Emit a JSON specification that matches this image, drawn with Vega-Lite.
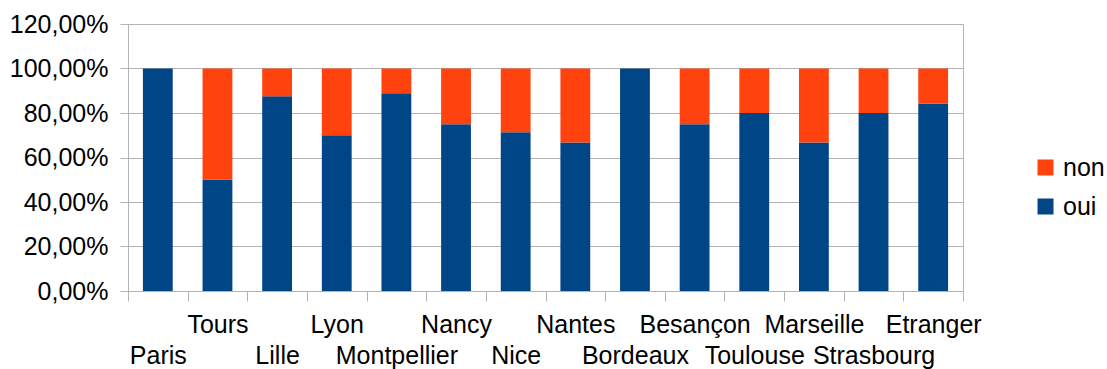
{
  "$schema": "https://vega.github.io/schema/vega-lite/v6.json",
  "width": 835,
  "height": 267,
  "autosize": {"type": "none"},
  "padding": {"left": 128, "top": 24, "right": 144, "bottom": 78},
  "background": "white",
  "config": {
    "font": "Liberation Sans",
    "view": {"stroke": "#b3b3b3", "strokeWidth": 1},
    "axis": {"labelFont": "Liberation Sans", "labelColor": "#000000", "domainColor": "#b3b3b3", "tickColor": "#b3b3b3", "gridColor": "#b3b3b3"}
  },
  "data": {
    "values": [
      {"ville": "Paris", "reponse": "oui", "pourcentage": 1.0},
      {"ville": "Paris", "reponse": "non", "pourcentage": 0.0},
      {"ville": "Tours", "reponse": "oui", "pourcentage": 0.5},
      {"ville": "Tours", "reponse": "non", "pourcentage": 0.5},
      {"ville": "Lille", "reponse": "oui", "pourcentage": 0.875},
      {"ville": "Lille", "reponse": "non", "pourcentage": 0.125},
      {"ville": "Lyon", "reponse": "oui", "pourcentage": 0.7},
      {"ville": "Lyon", "reponse": "non", "pourcentage": 0.3},
      {"ville": "Montpellier", "reponse": "oui", "pourcentage": 0.889},
      {"ville": "Montpellier", "reponse": "non", "pourcentage": 0.111},
      {"ville": "Nancy", "reponse": "oui", "pourcentage": 0.75},
      {"ville": "Nancy", "reponse": "non", "pourcentage": 0.25},
      {"ville": "Nice", "reponse": "oui", "pourcentage": 0.714},
      {"ville": "Nice", "reponse": "non", "pourcentage": 0.286},
      {"ville": "Nantes", "reponse": "oui", "pourcentage": 0.667},
      {"ville": "Nantes", "reponse": "non", "pourcentage": 0.333},
      {"ville": "Bordeaux", "reponse": "oui", "pourcentage": 1.0},
      {"ville": "Bordeaux", "reponse": "non", "pourcentage": 0.0},
      {"ville": "Besançon", "reponse": "oui", "pourcentage": 0.75},
      {"ville": "Besançon", "reponse": "non", "pourcentage": 0.25},
      {"ville": "Toulouse", "reponse": "oui", "pourcentage": 0.8},
      {"ville": "Toulouse", "reponse": "non", "pourcentage": 0.2},
      {"ville": "Marseille", "reponse": "oui", "pourcentage": 0.667},
      {"ville": "Marseille", "reponse": "non", "pourcentage": 0.333},
      {"ville": "Strasbourg", "reponse": "oui", "pourcentage": 0.8},
      {"ville": "Strasbourg", "reponse": "non", "pourcentage": 0.2},
      {"ville": "Etranger", "reponse": "oui", "pourcentage": 0.842},
      {"ville": "Etranger", "reponse": "non", "pourcentage": 0.158}
    ]
  },
  "mark": {"type": "bar", "width": {"band": 0.5}},
  "encoding": {
    "x": {
      "field": "ville",
      "type": "nominal",
      "sort": null,
      "title": null,
      "scale": {"paddingInner": 0, "paddingOuter": 0},
      "axis": {
        "labelAngle": 0,
        "labelFontSize": 25,
        "labelOverlap": false,
        "labelBound": false,
        "labelFlush": false,
        "labelBaseline": "top",
        "tickBand": "extent",
        "tickSize": 10,
        "labelPadding": {
          "condition": {"test": "indexof(['Paris','Lille','Montpellier','Nice','Bordeaux','Toulouse','Strasbourg'], datum.value) >= 0", "value": 42},
          "value": 11
        }
      }
    },
    "y": {
      "field": "pourcentage",
      "type": "quantitative",
      "stack": "zero",
      "title": null,
      "scale": {"domain": [0, 1.2], "nice": false},
      "axis": {
        "values": [0, 0.2, 0.4, 0.6, 0.8, 1.0, 1.2],
        "labelExpr": "replace(format(datum.value, '.2%'), '.', ',')",
        "labelFontSize": 25,
        "tickSize": 8,
        "labelPadding": 12,
        "grid": true
      }
    },
    "color": {
      "field": "reponse",
      "type": "nominal",
      "title": null,
      "scale": {"domain": ["non", "oui"], "range": ["#ff420e", "#004586"]},
      "legend": {
        "orient": "none",
        "legendX": 905,
        "legendY": 131,
        "padding": 0,
        "symbolType": "square",
        "symbolSize": 256,
        "symbolStrokeWidth": 0,
        "symbolOpacity": 1,
        "labelFontSize": 25,
        "labelFont": "Liberation Sans",
        "labelColor": "#000000",
        "labelOffset": 5,
        "labelLimit": 200,
        "rowPadding": 13
      }
    },
    "order": {"field": "reponse", "sort": "descending"}
  }
}
